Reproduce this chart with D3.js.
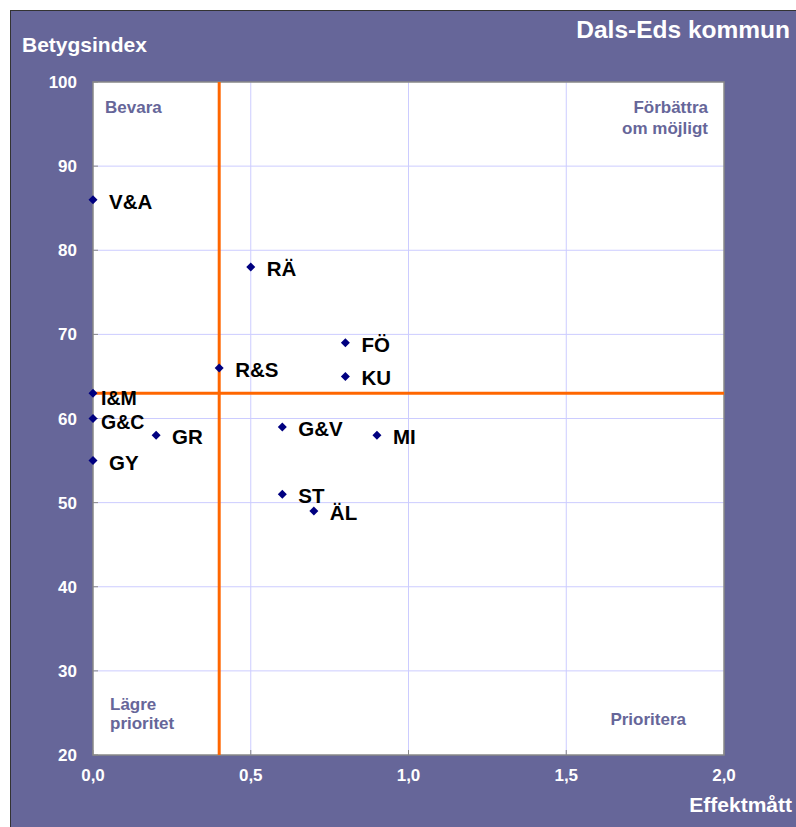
<!DOCTYPE html>
<html><head><meta charset="utf-8">
<script src="https://cdn.jsdelivr.net/npm/d3@7"></script>
<style>body{margin:0;background:#fff}svg{display:block}text{font-family:Arial,"Liberation Sans",sans-serif;font-weight:bold}</style>
</head><body>
<script>
const names = ["V&A","RÄ","FÖ","KU","R&S","I&M","G&C","GR","GY","G&V","MI","ST","ÄL"];
const effekt = [0,0.5,0.8,0.8,0.4,0,0,0.2,0,0.6,0.9,0.6,0.7];
const betyg = [86,78,69,65,66,63,60,58,55,59,58,51,49];
const xTicks = [0,0.5,1,1.5,2];
const yTicks = [20,30,40,50,60,70,80,90,100];
const xThreshold = 0.4, yThreshold = 63;

const W=796,H=827;
const svg=d3.select("body").append("svg").attr("width",W).attr("height",H);
svg.append("rect").attr("x",10.5).attr("y",10.5).attr("width",W).attr("height",H).attr("fill","#666699").attr("stroke","#333").attr("stroke-width",1);
const L=93,T=82,R=724,B=755;
const x=d3.scaleLinear().domain([0,2]).range([L,R]);
const y=d3.scaleLinear().domain([20,100]).range([B,T]);
svg.append("rect").attr("x",L).attr("y",T).attr("width",R-L).attr("height",B-T).attr("fill","#fff");
const g=svg.append("g");
g.selectAll(".gx").data(xTicks.slice(1,-1)).join("line").attr("x1",d=>x(d)).attr("x2",d=>x(d)).attr("y1",T).attr("y2",B).attr("stroke","#ccccff").attr("stroke-width",1);
g.selectAll(".gy").data(yTicks.slice(1,-1)).join("line").attr("y1",d=>y(d)).attr("y2",d=>y(d)).attr("x1",L).attr("x2",R).attr("stroke","#ccccff").attr("stroke-width",1);
g.selectAll(".tx").data(xTicks).join("line").attr("x1",d=>x(d)).attr("x2",d=>x(d)).attr("y1",B).attr("y2",B-5).attr("stroke","#888");
g.selectAll(".ty").data(yTicks).join("line").attr("y1",d=>y(d)).attr("y2",d=>y(d)).attr("x1",L).attr("x2",L+5).attr("stroke","#888");
svg.append("rect").attr("x",L).attr("y",T).attr("width",R-L).attr("height",B-T).attr("fill","none").attr("stroke","#888").attr("stroke-width",1.5);
svg.append("line").attr("x1",x(xThreshold)).attr("x2",x(xThreshold)).attr("y1",T).attr("y2",B).attr("stroke","#ff6600").attr("stroke-width",3);
svg.append("line").attr("x1",L).attr("x2",R).attr("y1",y(yThreshold)).attr("y2",y(yThreshold)).attr("stroke","#ff6600").attr("stroke-width",3);
svg.selectAll(".xl").data(xTicks).join("text").attr("x",d=>x(d)).attr("y",781).attr("text-anchor","middle").attr("fill","#fff").attr("font-size",17).text(d=>d3.format(".1f")(d).replace(".",","));
svg.selectAll(".yl").data(yTicks).join("text").attr("x",77).attr("y",d=>y(d)+6).attr("text-anchor","end").attr("fill","#fff").attr("font-size",17).text(d=>d);
svg.append("text").attr("x",22).attr("y",52).attr("fill","#fff").attr("font-size",21).text("Betygsindex");
svg.append("text").attr("x",790).attr("y",38).attr("text-anchor","end").attr("fill","#fff").attr("font-size",24.5).text("Dals-Eds kommun");
svg.append("text").attr("x",792).attr("y",812).attr("text-anchor","end").attr("fill","#fff").attr("font-size",21).text("Effektmått");
const q=svg.append("g").attr("fill","#666699").attr("font-size",17);
q.append("text").attr("x",105).attr("y",113).text("Bevara");
q.append("text").attr("x",708).attr("y",113).attr("text-anchor","end").text("Förbättra");
q.append("text").attr("x",708).attr("y",134).attr("text-anchor","end").text("om möjligt");
q.append("text").attr("x",110).attr("y",710).text("Lägre");
q.append("text").attr("x",110).attr("y",729).text("prioritet");
q.append("text").attr("x",686).attr("y",725).attr("text-anchor","end").text("Prioritera");
const pts=names.map((n,i)=>({n,x:effekt[i],y:betyg[i]}));
const near={"I&M":[8,12],"G&C":[8,10]};
svg.selectAll(".pt").data(pts).join("path").attr("d","M0,-4.5L4.5,0L0,4.5L-4.5,0Z").attr("transform",d=>`translate(${x(d.x)},${y(d.y)})`).attr("fill","#000080");
svg.selectAll(".lb").data(pts).join("text").attr("x",d=>x(d.x)+(near[d.n]?near[d.n][0]:16)).attr("y",d=>y(d.y)+(near[d.n]?near[d.n][1]:9)).attr("fill","#000").attr("font-size",d=>near[d.n]?19.5:20.5).text(d=>d.n);
</script>
</body></html>
